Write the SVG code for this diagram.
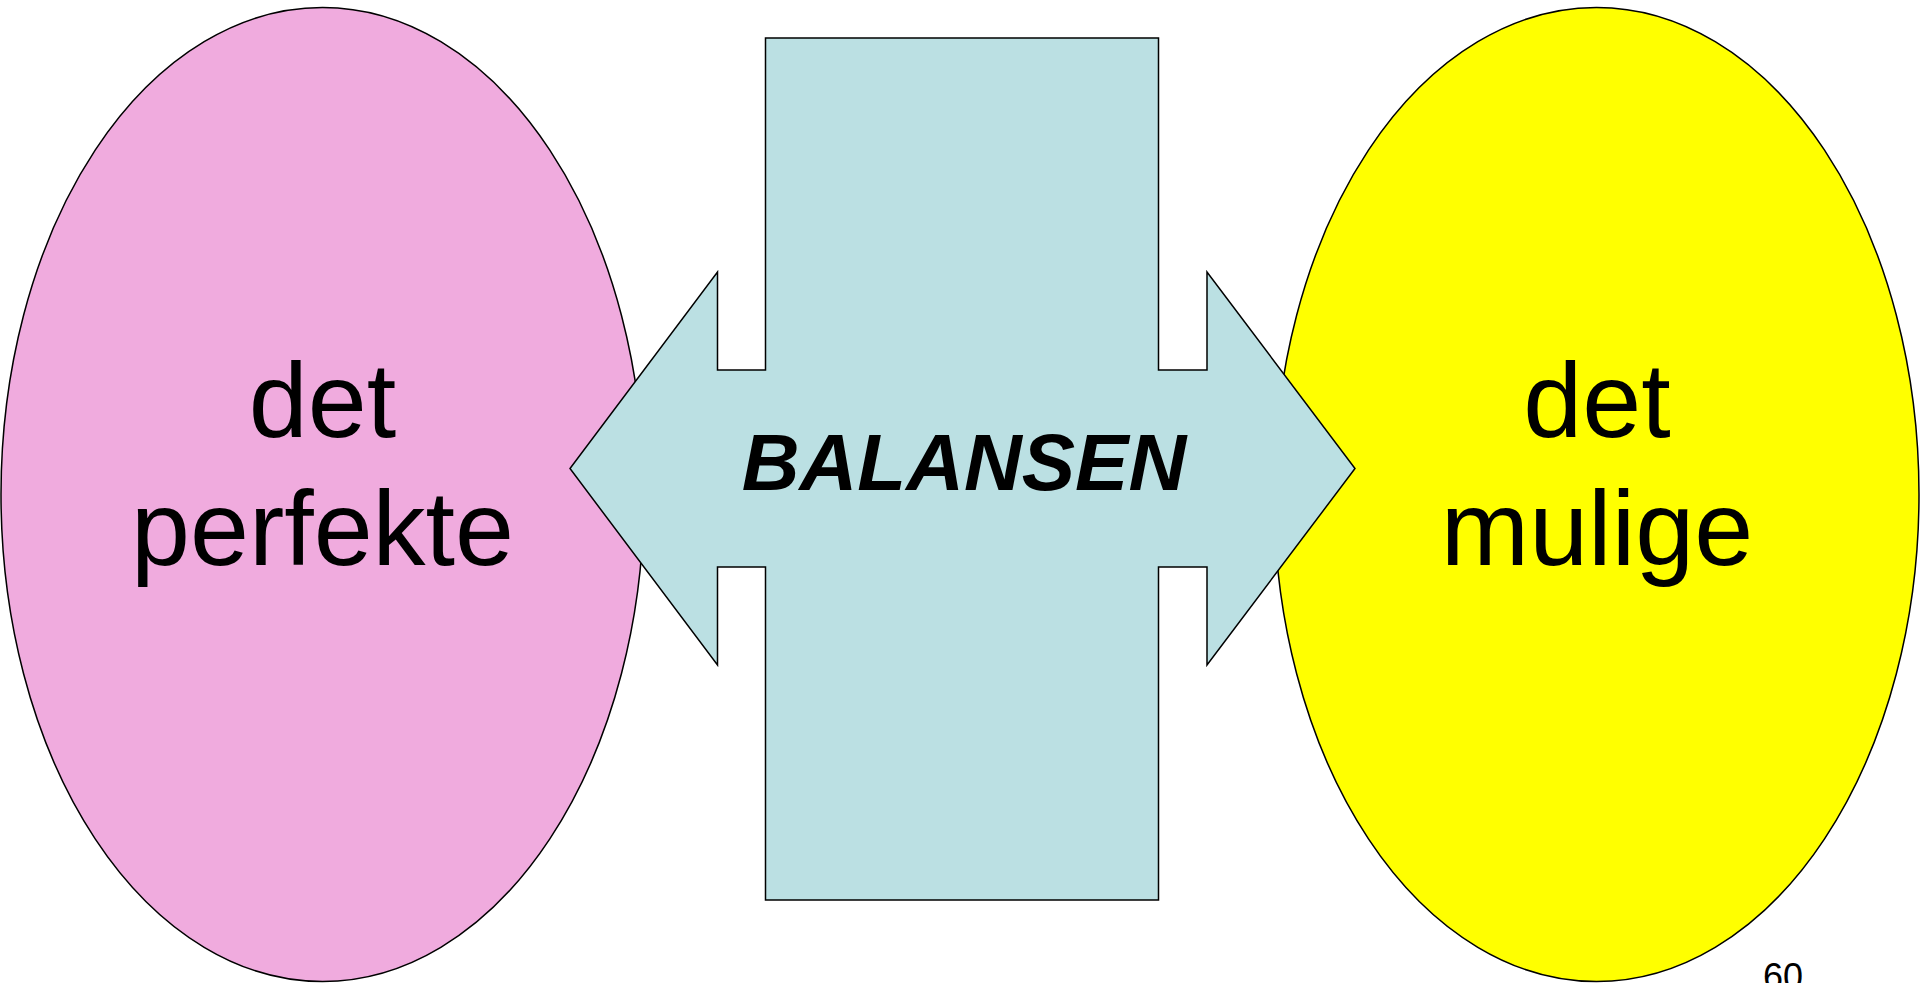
<svg xmlns="http://www.w3.org/2000/svg" width="1920" height="983" viewBox="0 0 1920 983">
<style>
.shape{stroke:#000;stroke-width:1.5}
.big{font-family:"Liberation Sans",Arial,sans-serif;font-size:106px;fill:#000;text-anchor:middle}
.mid{font-family:"Liberation Sans",Arial,sans-serif;font-size:80px;font-weight:bold;font-style:italic;fill:#000;text-anchor:middle}
.num{font-family:"Liberation Sans",Arial,sans-serif;font-size:36px;fill:#000}
</style>
<rect width="1920" height="983" fill="#fff"/>
<g id="node-perfekte">
<ellipse class="shape" cx="322.5" cy="494.5" rx="321.5" ry="487" fill="#F0ABDE"/>
<text class="big" x="322.5" y="437">det</text>
<text class="big" x="322.5" y="565">perfekte</text>
</g>
<g id="node-mulige">
<ellipse class="shape" cx="1596.5" cy="494.5" rx="322.5" ry="487" fill="#FFFF00"/>
<text class="big" x="1597" y="437">det</text>
<text class="big" x="1597" y="565">mulige</text>
</g>
<g id="node-balansen">
<path class="shape" fill="#BBE0E3" d="M765.5,38 H1158.5 V370 H1207 V272 L1355,468.5 L1207,665 V567 H1158.5 V900 H765.5 V567 H717.5 V665 L570,468.5 L717.5,272 V370 H765.5 Z"/>
<text class="mid" x="964" y="490">BALANSEN</text>
</g>
<g id="connectors"></g>
<text class="num" x="1763" y="989">60</text>
</svg>
